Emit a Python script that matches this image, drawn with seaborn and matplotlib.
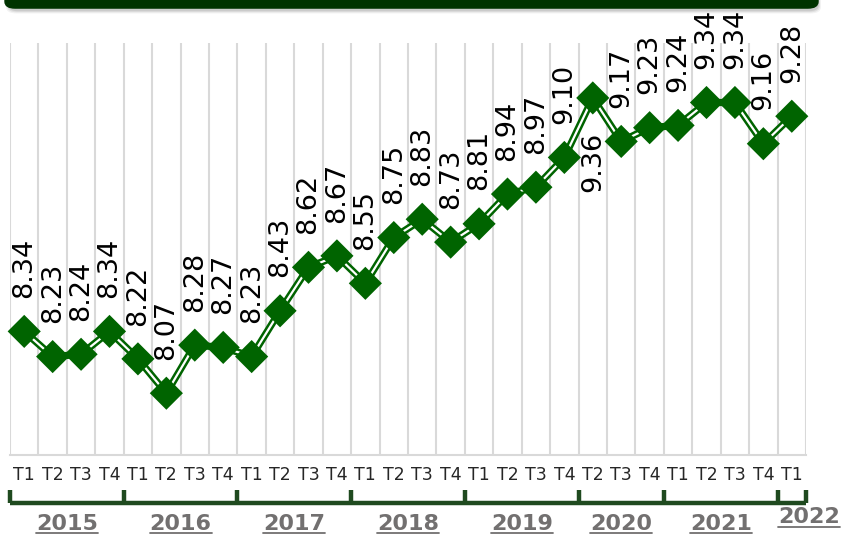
import numpy as np
import pandas as pd
import matplotlib
matplotlib.use('Agg')
import matplotlib.pyplot as plt
import matplotlib.transforms as mtransforms
from matplotlib.patches import FancyBboxPatch
from matplotlib.lines import Line2D
import seaborn as sns

# Données : indicateur trimestriel 2015-2022
years = [2015] * 4 + [2016] * 4 + [2017] * 4 + [2018] * 4 + [2019] * 4 + [2020] * 3 + [2021] * 4 + [2022]
quarters = (['T1', 'T2', 'T3', 'T4'] * 5 + ['T2', 'T3', 'T4']
            + ['T1', 'T2', 'T3', 'T4'] + ['T1'])
values = [8.34, 8.23, 8.24, 8.34,
          8.22, 8.07, 8.28, 8.27,
          8.23, 8.43, 8.62, 8.67,
          8.55, 8.75, 8.83, 8.73,
          8.81, 8.94, 8.97, 9.10,
          9.36, 9.17, 9.23,
          9.24, 9.34, 9.34, 9.16,
          9.28]
labels_below = [9.36]

GREEN = '#006400'
DARK = '#1f4a1f'
GRAY_TXT = '#727070'

df = pd.DataFrame({'idx': np.arange(len(values)), 'year': years,
                   'quarter': quarters, 'value': values})

sns.set_style('white')
plt.rcParams['font.family'] = ['DejaVu Sans']

fig = plt.figure(figsize=(8.42, 5.37), dpi=100)
ax = fig.add_axes([10 / 842, 1 - 455 / 537, 796 / 842, 412 / 537])

# ligne double : verte épaisse + filet blanc, puis losanges
sns.lineplot(data=df, x='idx', y='value', color=GREEN, lw=5.2, ax=ax, zorder=2)
sns.lineplot(data=df, x='idx', y='value', color='white', lw=1.6, ax=ax, zorder=3)
sns.scatterplot(data=df, x='idx', y='value', marker='D', s=285, color=GREEN,
                edgecolor='none', linewidth=0, ax=ax, zorder=4, clip_on=False)

for i, v in zip(df['idx'], df['value']):
    below = v in labels_below
    ax.annotate(f'{v:.2f}', (i, v), xytext=(0, -24 if below else 24),
                textcoords='offset points', rotation=90, ha='center',
                va='top' if below else 'bottom', fontsize=19.5, color='black',
                zorder=5, annotation_clip=False)

ax.set_xlim(-0.5, len(values) - 0.5)
ax.set_ylim(7.8, 9.6)
ax.set_xlabel('')
ax.set_ylabel('')
ax.set_yticks([])

ax.set_xticks(df['idx'])
ax.set_xticklabels(df['quarter'], fontsize=12.5)
ax.set_xticks(np.arange(-0.5, len(values)), minor=True)
ax.tick_params(axis='x', which='major', length=0, pad=8)
ax.tick_params(axis='x', which='minor', length=7, width=1.5, color='#d9d9d9')
ax.grid(which='minor', axis='x', color='#d9d9d9', lw=1.5)
ax.grid(which='major', axis='x', visible=False)
ax.set_axisbelow(True)
sns.despine(ax=ax, left=True, top=True, right=True)
ax.spines['bottom'].set_color('#d9d9d9')
ax.spines['bottom'].set_linewidth(1.5)

# accolade des années sous les trimestres
trans = mtransforms.blended_transform_factory(ax.transData, ax.transAxes)
year_list = list(dict.fromkeys(years))
bounds = [-0.5]
for y in year_list:
    bounds.append(df.loc[df['year'] == y, 'idx'].max() + 0.5)
ax.plot([bounds[0], bounds[-1]], [-0.116, -0.116], color=DARK, lw=3.2,
        transform=trans, clip_on=False, solid_capstyle='butt')
for b in bounds:
    ax.plot([b, b], [-0.116, -0.084], color=DARK, lw=3.2, transform=trans,
            clip_on=False, solid_capstyle='butt')

year_texts = []
for y in year_list:
    cx = df.loc[df['year'] == y, 'idx'].mean()
    dy = 0.0
    if y == year_list[-1]:
        cx += 0.6
        dy = 0.016
    t = ax.text(cx, -0.167 + dy, str(y), transform=trans, ha='center', va='center',
                fontsize=16, fontweight='bold', color=GRAY_TXT)
    year_texts.append(t)

# soulignement des années
fig.canvas.draw()
renderer = fig.canvas.get_renderer()
inv = fig.transFigure.inverted()
for t in year_texts:
    bb = t.get_window_extent(renderer)
    (x0, y0), (x1, y1) = inv.transform([[bb.x0, bb.y0], [bb.x1, bb.y0]])
    fig.add_artist(Line2D([x0, x1], [y0 + 0.001, y0 + 0.001], color=GRAY_TXT, lw=1.3))

# bandeau vert en haut, avec ombre légère
for k, a in enumerate([0.05, 0.07, 0.09]):
    shadow = FancyBboxPatch(((6 + k) / 842, 0.975 + 0.002 * k), (815 - 2 * k) / 842, 0.06,
                            boxstyle='round,pad=0,rounding_size=0.012',
                            transform=fig.transFigure, color='#000000', alpha=a,
                            lw=0, zorder=9, clip_on=False)
    fig.add_artist(shadow)
banner = FancyBboxPatch((5 / 842, 0.985), 813 / 842, 0.06,
                        boxstyle='round,pad=0,rounding_size=0.012',
                        transform=fig.transFigure, color='#003300', zorder=10,
                        clip_on=False)
fig.add_artist(banner)

fig.savefig('out.png', dpi=100)
